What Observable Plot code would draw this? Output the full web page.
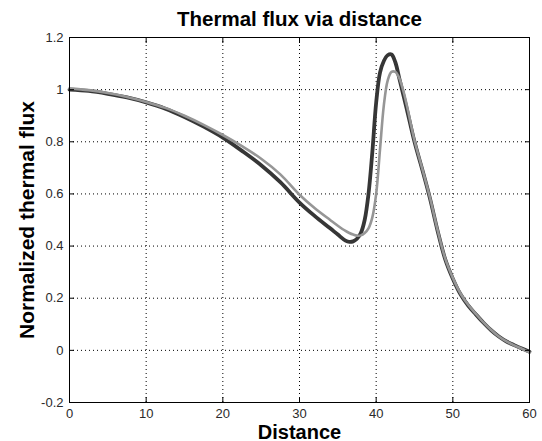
<!DOCTYPE html>
<html>
<head>
<meta charset="utf-8">
<script src="https://cdn.jsdelivr.net/npm/d3@7"></script>
<script src="https://cdn.jsdelivr.net/npm/@observablehq/plot@0.6"></script>
<style>
  html, body { margin: 0; padding: 0; background: #fff; }
  #chart svg { display: block; }
</style>
</head>
<body>
<div id="chart"></div>
<script>
const distance = [0,2.5,5,7.5,10,12.5,15,17.5,20,22.5,25,27.5,30,32,34,35,36,36.5,37,37.5,38,38.5,39,39.5,40,40.5,41,41.5,42,42.5,43,43.5,44,45,46,47,48,49,50,51,52,53,54,55,56,57,58,59,60];
const fluxDark = [1.000,0.995,0.984,0.970,0.951,0.927,0.895,0.858,0.816,0.765,0.710,0.645,0.567,0.515,0.468,0.444,0.421,0.416,0.418,0.428,0.45,0.50,0.60,0.76,0.95,1.065,1.11,1.132,1.135,1.105,1.045,0.985,0.925,0.80,0.695,0.585,0.46,0.35,0.275,0.215,0.172,0.138,0.106,0.077,0.053,0.034,0.02,0.007,-0.005];
const fluxLight = [1.005,0.998,0.987,0.972,0.953,0.930,0.900,0.865,0.826,0.783,0.735,0.675,0.597,0.545,0.500,0.478,0.458,0.450,0.444,0.440,0.441,0.450,0.468,0.51,0.60,0.77,0.94,1.035,1.068,1.068,1.045,1.0,0.94,0.805,0.698,0.588,0.463,0.353,0.278,0.218,0.175,0.14,0.107,0.078,0.053,0.034,0.019,0.006,-0.008];
const xTicks = [0,10,20,30,40,50,60];
const yTicks = [-0.2,0,0.2,0.4,0.6,0.8,1,1.2];
const xGrid = [10,20,30,40,50];
const yGrid = [0,0.2,0.4,0.6,0.8,1];
const titleText = "Thermal flux via distance";
const xLabel = "Distance";
const yLabel = "Normalized thermal flux";

const darkData = distance.map((d, i) => ({x: d, y: fluxDark[i]}));
const lightData = distance.map((d, i) => ({x: d, y: fluxLight[i]}));

const font = "Liberation Sans, Arial, sans-serif";

const chart = Plot.plot({
  width: 542,
  height: 441,
  marginLeft: 69,
  marginRight: 13,
  marginTop: 37,
  marginBottom: 39,
  style: {fontFamily: font, background: "#fff", color: "#111"},
  x: {domain: [0, 60]},
  y: {domain: [-0.2, 1.2]},
  marks: [
    Plot.ruleX(xGrid, {stroke: "#000", strokeWidth: 1, strokeDasharray: "1,3"}),
    Plot.ruleY(yGrid, {stroke: "#000", strokeWidth: 1, strokeDasharray: "1,3"}),
    Plot.line(darkData, {x: "x", y: "y", stroke: "#363636", strokeWidth: 3.8, curve: "catmull-rom"}),
    Plot.line(lightData, {x: "x", y: "y", stroke: "#969696", strokeWidth: 2.6, curve: "catmull-rom"}),
    Plot.frame({stroke: "#000", strokeWidth: 1}),
    // inward ticks
    Plot.axisX(xTicks, {anchor: "bottom", tickSize: 5, dy: -5, text: null, label: null, stroke: "#000"}),
    Plot.axisX(xTicks, {anchor: "top", tickSize: 5, dy: 5, text: null, label: null, stroke: "#000"}),
    Plot.axisY(yTicks, {anchor: "left", tickSize: 5, dx: 5, text: null, label: null, stroke: "#000"}),
    Plot.axisY(yTicks, {anchor: "right", tickSize: 5, dx: -5, text: null, label: null, stroke: "#000"}),
    // tick labels
    Plot.axisX(xTicks, {anchor: "bottom", tickSize: 0, tickPadding: 6, label: null, fontSize: 13, tickFormat: d => String(d), fill: "#2a2a2a"}),
    Plot.axisY(yTicks, {anchor: "left", tickSize: 0, tickPadding: 6, label: null, fontSize: 13, tickFormat: d => String(d), fill: "#2a2a2a"}),
    // titles
    Plot.text([titleText], {frameAnchor: "top", dy: -12, lineAnchor: "bottom", fontSize: 20.5, fontWeight: "bold", fill: "#000"}),
    Plot.text([xLabel], {frameAnchor: "bottom", dy: 36, lineAnchor: "bottom", fontSize: 20, fontWeight: "bold", fill: "#000"}),
    Plot.text([yLabel], {frameAnchor: "left", dx: -42, rotate: -90, textAnchor: "middle", lineAnchor: "middle", fontSize: 21, fontWeight: "bold", fill: "#000"})
  ]
});
document.getElementById("chart").appendChild(chart);
</script>
</body>
</html>
